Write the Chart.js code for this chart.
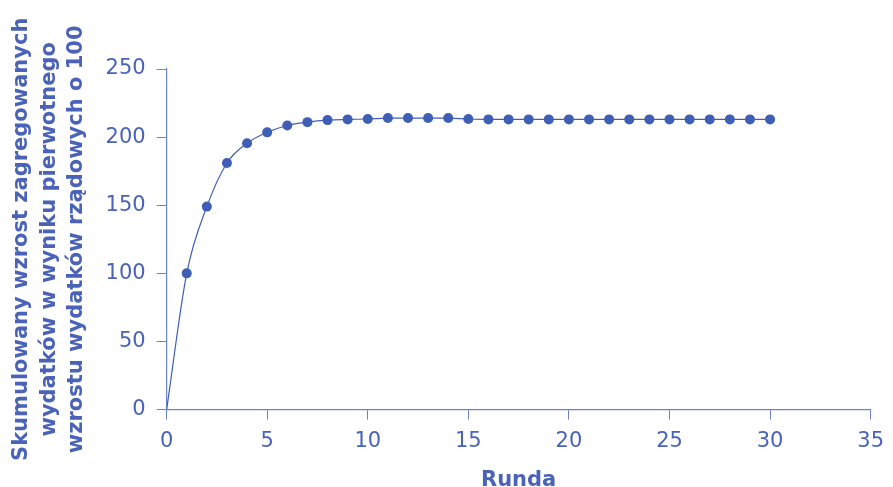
<!DOCTYPE html>
<html>
<head>
<meta charset="utf-8">
<script src="https://cdn.jsdelivr.net/npm/chart.js@4/dist/chart.umd.min.js"></script>
<style>
  html, body { margin: 0; padding: 0; background: #fff; }
  #wrap { width: 893px; height: 487px; }
</style>
</head>
<body>
<div id="wrap"><canvas id="chart" width="893" height="487"></canvas></div>
<script>
const rundy = [0, 1, 2, 3, 4, 5, 6, 7, 8, 9, 10, 11, 12, 13, 14, 15, 16, 17, 18, 19, 20,
    21, 22, 23, 24, 25, 26, 27, 28, 29, 30];
const wzrost = [0, 100, 149, 181, 195.5, 203.5, 208.5, 211, 212.5, 213, 213.3, 214, 214, 214, 214,
    213.3, 213, 213, 213, 213, 213, 213, 213, 213, 213, 213, 213, 213, 213, 213, 213];
const xTicks = [0, 5, 10, 15, 20, 25, 30, 35];
const yTicks = [0, 50, 100, 150, 200, 250];

const yTitle = [
    "Skumulowany wzrost zagregowanych",
    "wydatków w wyniku pierwotnego",
    "wzrostu wydatków rządowych o 100",
];
const xTitle = "Runda";

const TEXT = "#4a63b9";
const LINE = "#3f5fb7";
const AXIS = "#6a84cb";
const FONT = "DejaVu Sans";

const points = rundy.map((x, i) => ({ x, y: wzrost[i] }));

new Chart(document.getElementById("chart"), {
    type: "line",
    data: {
        datasets: [{
            data: points,
            borderColor: LINE,
            borderWidth: 1.2,
            backgroundColor: LINE,
            pointBackgroundColor: LINE,
            pointBorderWidth: 0,
            pointRadius: rundy.map((x) => (x === 0 ? 0 : 5)),
            cubicInterpolationMode: "monotone",
            fill: false,
        }],
    },
    options: {
        responsive: false,
        animation: false,
        layout: { padding: { top: 69, right: -4, left: 8, bottom: -6 } },
        plugins: { legend: { display: false }, tooltip: { enabled: false } },
        scales: {
            x: {
                type: "linear",
                min: 0,
                max: 35,
                afterBuildTicks: (axis) => { axis.ticks = xTicks.map((v) => ({ value: v })); },
                ticks: { color: TEXT, font: { family: FONT, size: 21 }, padding: 9, maxRotation: 0 },
                grid: { drawOnChartArea: false, drawTicks: true, tickLength: 10, color: AXIS },
                border: { color: AXIS, width: 1.2 },
                title: {
                    display: true,
                    text: xTitle,
                    color: TEXT,
                    font: { family: FONT, size: 21, weight: "bold" },
                    padding: { top: 5, bottom: 0 },
                },
            },
            y: {
                type: "linear",
                min: 0,
                max: 250,
                afterBuildTicks: (axis) => { axis.ticks = yTicks.map((v) => ({ value: v })); },
                ticks: { color: TEXT, font: { family: FONT, size: 21 }, padding: 11 },
                grid: { drawOnChartArea: false, drawTicks: true, tickLength: 10, color: AXIS },
                border: { color: AXIS, width: 1.2 },
                title: {
                    display: true,
                    text: yTitle,
                    color: TEXT,
                    font: { family: FONT, size: 21, weight: "bold", lineHeight: 1.31 },
                    padding: { top: 0, bottom: 4 },
                },
            },
        },
    },
});
</script>
</body>
</html>
